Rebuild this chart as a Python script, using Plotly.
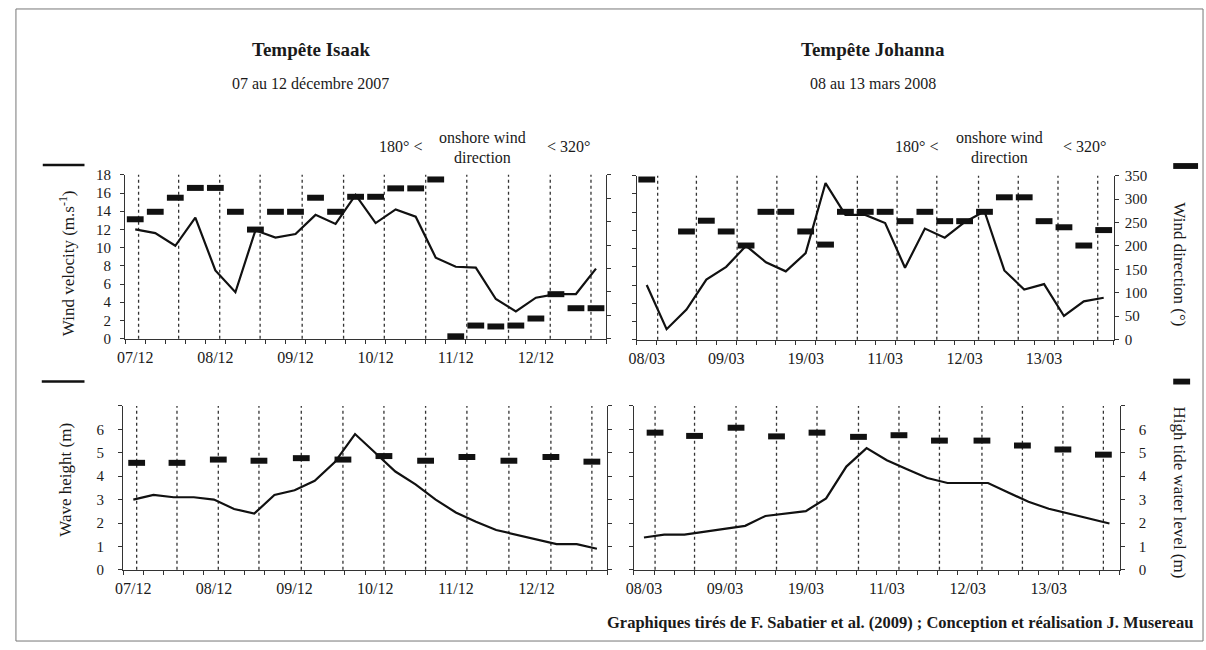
import plotly.graph_objects as go

W, H = 1206, 650
SERIF = "Liberation Serif, Times New Roman, serif"
INK = "#1a1a1a"

# Readings every 6 hours from the start of each storm window
obs_hours = [6 * i for i in range(24)]
day_ticks = [0, 24, 48, 72, 96, 120]

# Tempête Isaak, 07-12 Dec 2007
isaak_days = ["07/12", "08/12", "09/12", "10/12", "11/12", "12/12"]
isaak_wind_speed = [12.0, 11.6, 10.2, 13.3, 7.5, 5.1, 11.9, 11.1, 11.5, 13.6, 12.6, 15.8,
                    12.7, 14.2, 13.4, 8.9, 7.9, 7.8, 4.35, 3.0, 4.5, 4.9, 4.9, 7.7]
isaak_wind_dir = [255, 271, 301, 322, 322, 271, 233, 271, 271, 301, 271, 303,
                  303, 321, 321, 340, 5, 28, 26, 28, 43, 95, 65, 65]
isaak_wave = [3.0, 3.2, 3.1, 3.1, 3.0, 2.6, 2.4, 3.2, 3.4, 3.8, 4.6, 5.8,
              5.0, 4.2, 3.65, 3.0, 2.45, 2.05, 1.7, 1.5, 1.3, 1.1, 1.1, 0.9]
isaak_tide_hours = [1, 13, 25.3, 37.4, 50, 62.4, 74.6, 87, 99.3, 111.8, 124.3, 136.5]
isaak_tide_level = [4.57, 4.57, 4.71, 4.66, 4.77, 4.71, 4.86, 4.66, 4.82, 4.66, 4.82, 4.62]

# Tempête Johanna, 08-13 Mar 2008
johanna_days = ["08/03", "09/03", "19/03", "11/03", "12/03", "13/03"]
johanna_wind_speed = [6.0, 1.15, 3.3, 6.6, 8.0, 10.3, 8.5, 7.5, 9.5, 17.2, 13.7, 13.7,
                      12.8, 7.9, 12.2, 11.2, 12.9, 14.1, 7.6, 5.5, 6.1, 2.6, 4.2, 4.6]
johanna_wind_dir = [342, 365, 231, 254, 231, 201, 273, 273, 231, 203, 273, 273,
                    273, 253, 273, 253, 253, 273, 304, 304, 253, 240, 201, 234]
johanna_wave = [1.38, 1.5, 1.5, 1.63, 1.75, 1.88, 2.3, 2.42, 2.51, 3.05, 4.41, 5.2,
                4.68, 4.3, 3.92, 3.71, 3.71, 3.71, 3.3, 2.91, 2.61, 2.4, 2.19, 1.98]
johanna_tide_hours = [3.3, 15, 27.3, 39.3, 51.3, 63.6, 75.6, 87.6, 100.2, 112.2, 124.2, 136.2]
johanna_tide_level = [5.86, 5.72, 6.07, 5.70, 5.86, 5.68, 5.75, 5.52, 5.52, 5.31, 5.14, 4.92]

speed_ticks = list(range(0, 19, 2))
dir_ticks = list(range(0, 351, 50))
height_ticks = list(range(0, 7))


def dom_x(left, right):
    return [left / W, right / W]


def dom_y(top, bottom):
    return [1 - bottom / H, 1 - top / H]


def px(xp):
    return xp / W


def py(yp):
    return 1 - yp / H


axis_common = dict(
    showline=True, linecolor="#333", linewidth=1.3, showgrid=False, zeroline=False,
    ticks="outside", ticklen=4, tickcolor="#333", tickwidth=1,
    tickfont=dict(family=SERIF, size=15, color=INK),
)


def x_axis(domain, anchor, labels):
    ax = dict(axis_common)
    ax.update(
        domain=domain, anchor=anchor, range=[-3, 141],
        tickmode="array", tickvals=day_ticks, ticktext=labels, ticks="",
        ticklabelstandoff=4,
        tickfont=dict(family=SERIF, size=16, color=INK),
        minor=dict(tick0=-3, dtick=6, ticks="outside", ticklen=4, tickcolor="#333",
                   showgrid=False),
    )
    return ax


def y_axis(domain, anchor, rng, vals, show_labels, side="left", overlaying=None,
           top_tick=None, standoff=0):
    ax = dict(axis_common)
    ax.update(domain=domain, anchor=anchor, range=rng, side=side,
              tickmode="array", tickvals=vals, showticklabels=show_labels)
    if show_labels and standoff:
        ax["ticklabelstandoff"] = standoff
    if top_tick is not None:
        # unlabelled tick at the top of the axis
        ax["minor"] = dict(tickvals=[top_tick], ticks="outside", ticklen=4,
                           tickcolor="#333", showgrid=False)
    if overlaying:
        ax["overlaying"] = overlaying
    return ax


fig = go.Figure()

line_style = dict(color="#111", width=2.2)
bar_marker = dict(symbol="line-ew", size=12, line=dict(color="#111", width=6))


def add_panel(xa, ya_line, ya_mark, line_y, mark_x, mark_y, tide_x):
    fig.add_trace(go.Scatter(x=obs_hours, y=line_y, mode="lines", line=line_style,
                             xaxis=xa, yaxis=ya_line, showlegend=False, hoverinfo="skip"))
    fig.add_trace(go.Scatter(x=mark_x, y=mark_y, mode="markers", marker=bar_marker,
                             cliponaxis=False, xaxis=xa, yaxis=ya_mark,
                             showlegend=False, hoverinfo="skip"))
    # high tide times
    for t in tide_x:
        fig.add_shape(type="line", xref=xa, yref=f"{ya_line} domain",
                      x0=t, x1=t, y0=0, y1=1, layer="below",
                      line=dict(color="#333", width=1.3, dash="3px,3px"))


add_panel("x", "y", "y2", isaak_wind_speed, obs_hours, isaak_wind_dir, isaak_tide_hours)
add_panel("x2", "y3", "y4", johanna_wind_speed, obs_hours, johanna_wind_dir, johanna_tide_hours)
add_panel("x3", "y5", "y6", isaak_wave, isaak_tide_hours, isaak_tide_level, isaak_tide_hours)
add_panel("x4", "y7", "y8", johanna_wave, johanna_tide_hours, johanna_tide_level, johanna_tide_hours)

TL = (dom_x(118, 602), dom_y(171, 339))
TR = (dom_x(633, 1113), dom_y(172, 340))
BL = (dom_x(116, 603), dom_y(408, 576))
BR = (dom_x(630, 1119), dom_y(408, 576))

fig.update_layout(
    xaxis=x_axis(TL[0], "y", isaak_days),
    yaxis=y_axis(TL[1], "x", [0, 18], speed_ticks, True, standoff=6),
    yaxis2=y_axis(TL[1], "x", [0, 350], dir_ticks, False, side="right", overlaying="y"),
    xaxis2=x_axis(TR[0], "y3", johanna_days),
    yaxis3=y_axis(TR[1], "x2", [0, 18], speed_ticks, False),
    yaxis4=y_axis(TR[1], "x2", [0, 350], dir_ticks, True, side="right", overlaying="y3",
                  standoff=3),
    xaxis3=x_axis(BL[0], "y5", isaak_days),
    yaxis5=y_axis(BL[1], "x3", [0, 7], height_ticks, True, top_tick=7, standoff=11),
    yaxis6=y_axis(BL[1], "x3", [0, 7], height_ticks, False, side="right", overlaying="y5",
                  top_tick=7),
    xaxis4=x_axis(BR[0], "y7", johanna_days),
    yaxis7=y_axis(BR[1], "x4", [0, 7], height_ticks, False, top_tick=7),
    yaxis8=y_axis(BR[1], "x4", [0, 7], height_ticks, True, side="right", overlaying="y7",
                  top_tick=7, standoff=11),
)

annotations = []


def note(text, xp, yp, size=16, angle=0, xanchor="center"):
    annotations.append(dict(
        text=text, x=px(xp), y=py(yp), xref="paper", yref="paper",
        xanchor=xanchor, yanchor="middle", showarrow=False, textangle=angle,
        font=dict(family=SERIF, size=size, color=INK),
    ))


# Storm headings
note("<b>Tempête Isaak</b>", 305, 43, size=19)
note("07 au 12 décembre 2007", 305, 77, size=16)
note("<b>Tempête Johanna</b>", 871, 43, size=19)
note("08 au 13 mars 2008", 871, 77, size=16)

# Onshore wind sector reminder above each wind panel
for cx in (0, 520):
    note("180° <", 395 + cx, 142)
    note("onshore wind", 478 + cx, 133)
    note("direction", 478 + cx, 153)
    note("< 320°", 564 + cx, 142)

# Axis titles
note("Wind velocity (m.s<sup>-1</sup>)", 59, 262, size=17, angle=-90)
note("Wave height (m)", 57, 484, size=17, angle=-90)
note("Wind direction (°)", 1179, 263, size=17, angle=90)
note("High tide water level (m)", 1179, 497, size=17, angle=90)

# Credits
note("<b>Graphiques tirés de F. Sabatier et al. (2009) ; Conception et réalisation J. Musereau</b>",
     1195, 630, size=16.5, xanchor="right")

shapes = [
    # Series keys beside the axis titles
    dict(type="line", xref="paper", yref="paper", x0=px(35), x1=px(77), y0=py(161), y1=py(161),
         line=dict(color="#111", width=2.5)),
    dict(type="line", xref="paper", yref="paper", x0=px(34), x1=px(77), y0=py(383), y1=py(383),
         line=dict(color="#111", width=2.5)),
    dict(type="rect", xref="paper", yref="paper", x0=px(1173), x1=px(1198), y0=py(165), y1=py(159),
         fillcolor="#111", line=dict(width=0)),
    dict(type="rect", xref="paper", yref="paper", x0=px(1173), x1=px(1190), y0=py(386), y1=py(380),
         fillcolor="#111", line=dict(width=0)),
    # Outer frame
    dict(type="rect", xref="paper", yref="paper", x0=px(8), x1=px(1203), y0=py(649), y1=py(1),
         line=dict(color="#777", width=1)),
]

fig.update_layout(
    width=W, height=H, autosize=False,
    margin=dict(l=0, r=0, t=0, b=0),
    paper_bgcolor="white", plot_bgcolor="rgba(0,0,0,0)",
    showlegend=False,
    font=dict(family=SERIF, color=INK),
    annotations=annotations,
)
for s in shapes:
    fig.add_shape(**s)

fig.write_html("out.html")
